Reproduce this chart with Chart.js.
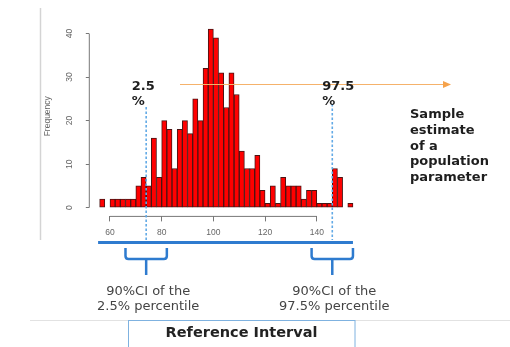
<!DOCTYPE html>
<html>
<head>
<meta charset="utf-8">
<script src="https://cdn.jsdelivr.net/npm/chart.js@4"></script>
<style>
  body { margin: 0; background: #fff; }
  canvas { display: block; }
</style>
</head>
<body>
<canvas id="hist" width="510" height="347"></canvas>
<script>
// histogram bins (left edge, width 2) and counts
const binStarts = [56, 58, 60, 62, 64, 66, 68, 70, 72, 74, 76, 78, 80, 82, 84, 86, 88, 90, 92, 94,
  96, 98, 100, 102, 104, 106, 108, 110, 112, 114, 116, 118, 120, 122, 124, 126, 128, 130, 132, 134,
  136, 138, 140, 142, 144, 146, 148, 150, 152];
const counts = [2, 0, 2, 2, 2, 2, 2, 5, 7, 5, 16, 7, 20, 18, 9, 18, 20, 17, 25, 20,
  32, 41, 39, 31, 23, 31, 26, 13, 9, 9, 12, 4, 1, 5, 1, 7, 5, 5, 5, 2,
  4, 4, 1, 1, 1, 9, 7, 0, 1];
const binWidth = 2;
const xTicks = [60, 80, 100, 120, 140];
const yTicks = [0, 10, 20, 30, 40];
const percentiles = [74, 146];
const percentLabels = [["2.5", "%"], ["97.5", "%"]];
const ciLabels = [["90%CI of the", "2.5% percentile"], ["90%CI of the", "97.5% percentile"]];
const estimateLines = ["Sample", "estimate", "of a", "population", "parameter"];

const ctx = document.getElementById("hist").getContext("2d");
const BLUE = "#2e7bcf";

// slide decoration + annotations drawn around the histogram
const annotations = {
  id: "annotations",
  afterDraw(chart) {
    const { ctx, chartArea: ca, scales: { x, y } } = chart;
    ctx.save();

    // R style axis lines (only between first and last tick)
    ctx.strokeStyle = "#777";
    ctx.lineWidth = 1;
    ctx.beginPath();
    ctx.moveTo(ca.left, y.getPixelForValue(yTicks[0]));
    ctx.lineTo(ca.left, y.getPixelForValue(yTicks[yTicks.length - 1]));
    ctx.moveTo(x.getPixelForValue(xTicks[0]), ca.bottom);
    ctx.lineTo(x.getPixelForValue(xTicks[xTicks.length - 1]), ca.bottom);
    ctx.stroke();

    // slide frame lines
    ctx.strokeStyle = "#d4d4d4";
    ctx.lineWidth = 1.5;
    ctx.beginPath();
    ctx.moveTo(40.5, 8); ctx.lineTo(40.5, 240);
    ctx.stroke();
    ctx.strokeStyle = "#e2e2e2";
    ctx.lineWidth = 1;
    ctx.beginPath();
    ctx.moveTo(30, 320.5); ctx.lineTo(510, 320.5);
    ctx.stroke();

    // orange arrow
    ctx.strokeStyle = "#f5b26b";
    ctx.fillStyle = "#f5a24b";
    ctx.lineWidth = 1.2;
    ctx.beginPath();
    ctx.moveTo(180, 84.5); ctx.lineTo(445, 84.5);
    ctx.stroke();
    ctx.beginPath();
    ctx.moveTo(451, 84.5); ctx.lineTo(443, 81); ctx.lineTo(443, 88);
    ctx.closePath(); ctx.fill();

    // dashed percentile lines
    ctx.strokeStyle = "#62aae6";
    ctx.lineWidth = 1.6;
    ctx.setLineDash([2.5, 2]);
    const tops = [107, 104];
    percentiles.forEach((p, i) => {
      const px = x.getPixelForValue(p);
      ctx.beginPath();
      ctx.moveTo(px, tops[i]); ctx.lineTo(px, 240);
      ctx.stroke();
    });
    ctx.setLineDash([]);

    // percentile labels
    ctx.fillStyle = "#1e1e1e";
    ctx.font = "bold 13px 'DejaVu Sans'";
    ctx.textAlign = "left";
    ctx.textBaseline = "middle";
    const offs = [-14.5, -10];
    percentiles.forEach((p, i) => {
      const px = x.getPixelForValue(p) + offs[i];
      ctx.fillText(percentLabels[i][0], px, 87);
      ctx.fillText(percentLabels[i][1], px, 102);
    });

    // estimate text
    estimateLines.forEach((t, i) => ctx.fillText(t, 410, 115 + i * 15.6));

    // thick blue line
    ctx.strokeStyle = BLUE;
    ctx.lineWidth = 3;
    ctx.beginPath();
    ctx.moveTo(x.getPixelForValue(55.4), 242.5);
    ctx.lineTo(x.getPixelForValue(154), 242.5);
    ctx.stroke();

    // brackets + CI text
    ctx.lineWidth = 2.5;
    percentiles.forEach((p, i) => {
      const xl = x.getPixelForValue(p - 8), xr = x.getPixelForValue(p + 8), xc = x.getPixelForValue(p);
      ctx.beginPath();
      ctx.moveTo(xl, 248);
      ctx.lineTo(xl, 256);
      ctx.quadraticCurveTo(xl, 259, xl + 3, 259);
      ctx.lineTo(xr - 3, 259);
      ctx.quadraticCurveTo(xr, 259, xr, 256);
      ctx.lineTo(xr, 248);
      ctx.moveTo(xc, 259);
      ctx.lineTo(xc, 275);
      ctx.stroke();

      ctx.fillStyle = "#444";
      ctx.font = "13px 'DejaVu Sans'";
      ctx.textAlign = "center";
      ctx.fillText(ciLabels[i][0], xc + 2, 292);
      ctx.fillText(ciLabels[i][1], xc + 2, 307);
    });

    // reference interval box
    ctx.strokeStyle = "#7fb2e0";
    ctx.lineWidth = 1;
    ctx.strokeRect(128.5, 320.5, 226.5, 40);
    ctx.fillStyle = "#222";
    ctx.font = "bold 14.5px 'DejaVu Sans'";
    ctx.fillText("Reference Interval", 241.5, 333);

    ctx.restore();
  }
};

new Chart(ctx, {
  type: "bar",
  data: {
    datasets: [{
      data: binStarts.map((b, i) => ({ x: b + binWidth / 2, y: counts[i] })),
      backgroundColor: "#ff0000",
      borderColor: "#4a1414",
      borderWidth: 1,
      borderSkipped: false,
      barPercentage: 1,
      categoryPercentage: 1
    }]
  },
  options: {
    responsive: false,
    animation: false,
    devicePixelRatio: 1,
    layout: { padding: { top: 15.4, right: 146.7, left: 0, bottom: 0 } },
    plugins: { legend: { display: false }, tooltip: { enabled: false } },
    scales: {
      x: {
        type: "linear",
        min: 52,
        max: 158,
        offset: false,
        afterBuildTicks: s => { s.ticks = xTicks.map(v => ({ value: v })); },
        afterFit: s => { s.height = 130.6; },
        grid: { display: true, drawOnChartArea: false, drawTicks: true, tickLength: 5, color: "#777", offset: false },
        border: { display: false },
        ticks: { color: "#666", font: { family: "'Liberation Sans'", size: 8.5 }, padding: 6, maxRotation: 0 }
      },
      y: {
        min: -2,
        max: 44,
        afterBuildTicks: s => { s.ticks = yTicks.map(v => ({ value: v })); },
        afterFit: s => { s.width = 89.3; },
        grid: { display: true, drawOnChartArea: false, drawTicks: true, tickLength: 3.5, color: "#777" },
        border: { display: false },
        ticks: { color: "#666", font: { family: "'Liberation Sans'", size: 8.5 }, padding: 11, minRotation: 90, maxRotation: 90, crossAlign: "center" },
        title: { display: true, text: "Frequency", color: "#666", font: { family: "'Liberation Sans'", size: 8.5 }, padding: { top: 42.5, bottom: 0 } }
      }
    }
  },
  plugins: [annotations]
});
</script>
</body>
</html>
